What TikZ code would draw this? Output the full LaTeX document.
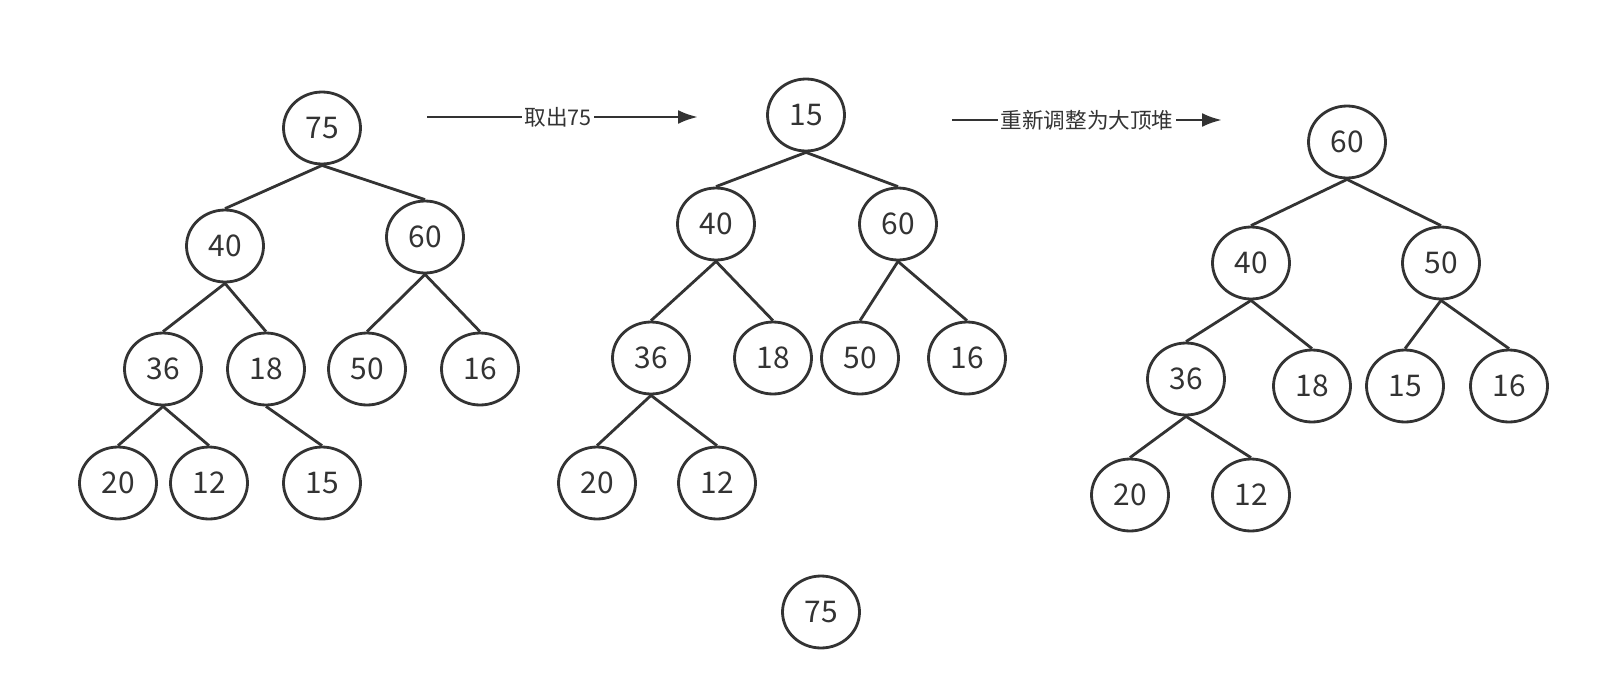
\documentclass[tikz,border=0pt]{standalone}
\usepackage{fontspec}
\newfontfamily\cjk{Noto Sans CJK SC}
\usepackage{tikz}
\usetikzlibrary{shapes.geometric,arrows.meta}

\begin{document}
\begin{tikzpicture}[x=0.02cm, y=-0.02cm,
    key/.style={draw=black!80, ellipse, line width=1.6pt, inner sep=0pt, minimum width=1.54cm, minimum height=1.44cm, text=black!80, font=\cjk\fontsize{17}{20}\selectfont},
    edge/.style={line width=1.6pt, black!80},
    arrow/.style={-{Latex[length=4mm, width=2.8mm]}, line width=1.6pt, black!80},
    tag/.style={fill=white, inner sep=1.5pt, font=\cjk\fontsize{12.3}{14}\selectfont, text=black!80}
]
\useasboundingbox (0,0) rectangle (1600,700);
% first heap
\node[key] (a75) at (322,128) {75};
\node[key] (a40) at (225,246) {40};
\node[key] (a60) at (425,237) {60};
\node[key] (a36) at (163,369) {36};
\node[key] (a18) at (266,369) {18};
\node[key] (a50) at (367,369) {50};
\node[key] (a16) at (480,369) {16};
\node[key] (a20) at (118,483) {20};
\node[key] (a12) at (209,483) {12};
\node[key] (a15) at (322,483) {15};
\draw[edge] (a75.south) -- (a40.north);
\draw[edge] (a75.south) -- (a60.north);
\draw[edge] (a40.south) -- (a36.north);
\draw[edge] (a40.south) -- (a18.north);
\draw[edge] (a60.south) -- (a50.north);
\draw[edge] (a60.south) -- (a16.north);
\draw[edge] (a36.south) -- (a20.north);
\draw[edge] (a36.south) -- (a12.north);
\draw[edge] (a18.south) -- (a15.north);
% second heap
\node[key] (b15) at (806,115) {15};
\node[key] (b40) at (716,224) {40};
\node[key] (b60) at (898,224) {60};
\node[key] (b36) at (651,358) {36};
\node[key] (b18) at (773,358) {18};
\node[key] (b50) at (860,358) {50};
\node[key] (b16) at (967,358) {16};
\node[key] (b20) at (597,483) {20};
\node[key] (b12) at (717,483) {12};
\draw[edge] (b15.south) -- (b40.north);
\draw[edge] (b15.south) -- (b60.north);
\draw[edge] (b40.south) -- (b36.north);
\draw[edge] (b40.south) -- (b18.north);
\draw[edge] (b60.south) -- (b50.north);
\draw[edge] (b60.south) -- (b16.north);
\draw[edge] (b36.south) -- (b20.north);
\draw[edge] (b36.south) -- (b12.north);
\node[key] (out75) at (821,612) {75};
% third heap
\node[key] (c60) at (1347,142) {60};
\node[key] (c40) at (1251,263) {40};
\node[key] (c50) at (1441,263) {50};
\node[key] (c36) at (1186,379) {36};
\node[key] (c18) at (1312,386) {18};
\node[key] (c15) at (1405,386) {15};
\node[key] (c16) at (1509,386) {16};
\node[key] (c20) at (1130,495) {20};
\node[key] (c12) at (1251,495) {12};
\draw[edge] (c60.south) -- (c40.north);
\draw[edge] (c60.south) -- (c50.north);
\draw[edge] (c40.south) -- (c36.north);
\draw[edge] (c40.south) -- (c18.north);
\draw[edge] (c50.south) -- (c15.north);
\draw[edge] (c50.south) -- (c16.north);
\draw[edge] (c36.south) -- (c20.north);
\draw[edge] (c36.south) -- (c12.north);
% steps
\coordinate (s1) at (427,117);
\coordinate (e1) at (698,117);
\coordinate (s2) at (952,120);
\coordinate (e2) at (1222,120);
\draw[arrow] (s1) -- (e1);
\draw[arrow] (s2) -- (e2);
\node[tag] (take) at (558,117) {取出75};
\node[tag] (adjust) at (1087,120) {重新调整为大顶堆};
\end{tikzpicture}
\end{document}
